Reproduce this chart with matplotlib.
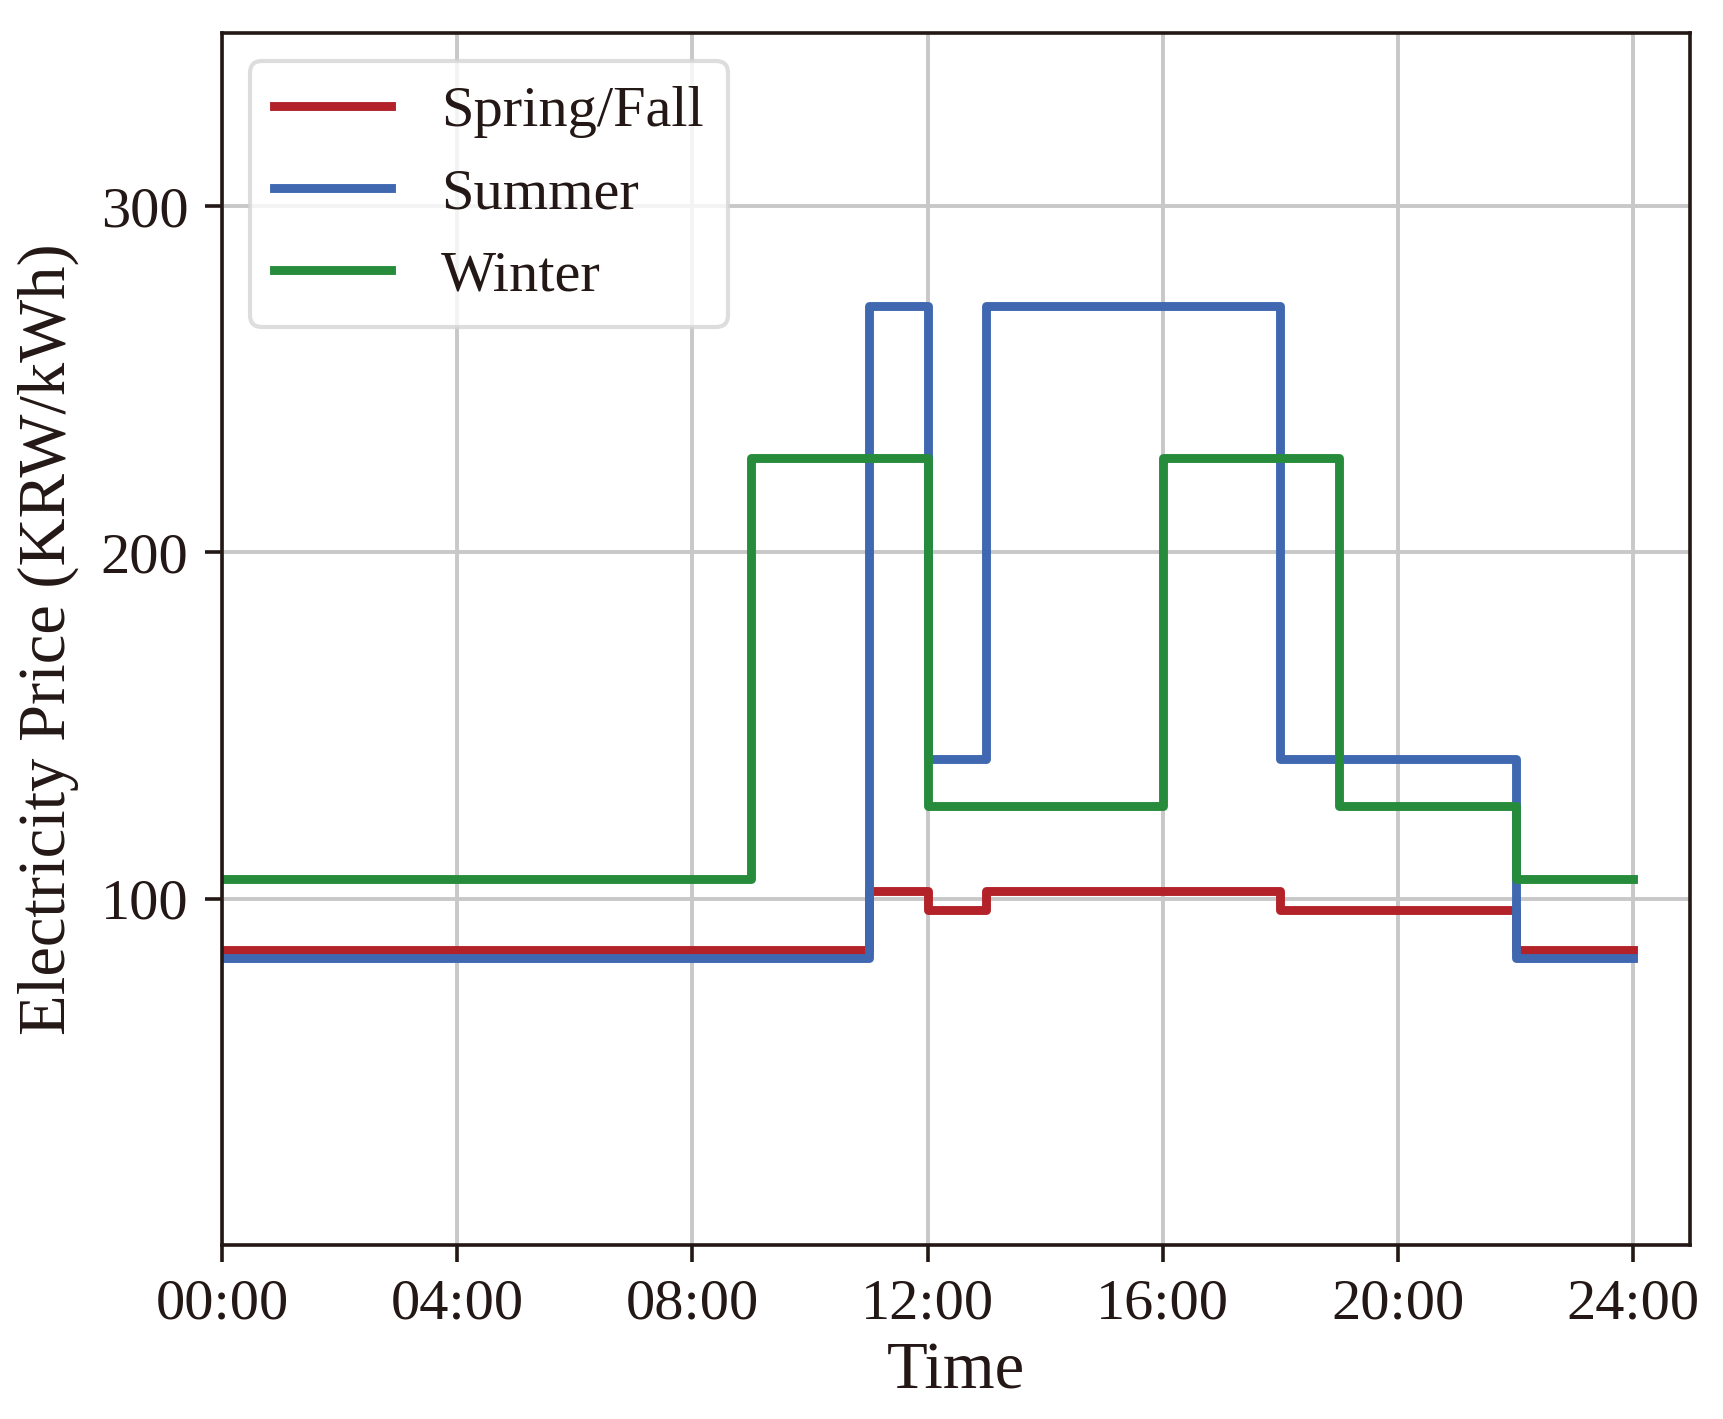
import matplotlib
matplotlib.use("Agg")
import matplotlib.pyplot as plt
import numpy as np

plt.rcParams['font.family'] = ['Liberation Serif', 'DejaVu Serif']
plt.rcParams['mathtext.fontset'] = 'stix'

# Hour boundaries (step 'post'): value holds from hour h until next
hours = list(range(25))  # 0..24
spring_fall = [85.1]*11 + [102.2] + [96.8] + [102.2]*5 + [96.8]*4 + [85.1]*2
summer = [82.9]*11 + [271.1] + [140.3] + [271.1]*5 + [140.3]*4 + [82.9]*2
winter = [105.7]*9 + [227.3]*3 + [126.7]*4 + [227.3]*3 + [126.7]*3 + [105.7]*2
# repeat last value for the end point at 24:00
spring_fall = spring_fall + [spring_fall[-1]]
summer = summer + [summer[-1]]
winter = winter + [winter[-1]]

series_names = ["Spring/Fall", "Summer", "Winter"]
series_colors = ["#B22228", "#3F68B0", "#268C3C"]
xtick_vals = [0, 4, 8, 12, 16, 20, 24]
xtick_labels = ["00:00", "04:00", "08:00", "12:00", "16:00", "20:00", "24:00"]
ytick_vals = [100, 200, 300]

text_color = "#231815"

fig = plt.figure(figsize=(1723/200, 1419/200), dpi=200)
ax = fig.add_axes([0.1288, 0.1226, 0.981-0.1288, 0.9767-0.1226])

for name, vals, col in zip(series_names, [spring_fall, summer, winter], series_colors):
    ax.step(hours, vals, where='post', color=col, lw=3.2, label=name)

ax.set_xlim(0, 24.97)
ax.set_ylim(0, 350)
ax.set_xticks(xtick_vals)
ax.set_xticklabels(xtick_labels)
ax.set_yticks(ytick_vals)
ax.grid(True, color="#c8c8c8", lw=1.4)
ax.set_axisbelow(True)

for sp in ax.spines.values():
    sp.set_linewidth(1.3)
    sp.set_color(text_color)
ax.tick_params(direction='out', length=6, width=1.3, color=text_color,
               labelsize=21, labelcolor=text_color, pad=6)

ax.set_xlabel("Time", fontsize=24, color=text_color, labelpad=4)
ax.set_ylabel("Electricity Price (KRW/kWh)", fontsize=24, color=text_color, labelpad=8)

leg = ax.legend(loc='upper left', fontsize=21, handlelength=2.0, handletextpad=0.85,
                labelspacing=0.5, borderpad=0.42, frameon=True, fancybox=True,
                bbox_to_anchor=(0.0, 1.0), borderaxespad=0.48)
leg.get_frame().set_edgecolor("#d5d5d5")
leg.get_frame().set_linewidth(1.5)
leg.get_frame().set_alpha(0.8)
for t in leg.get_texts():
    t.set_color(text_color)

fig.savefig("out.png", dpi=200)
